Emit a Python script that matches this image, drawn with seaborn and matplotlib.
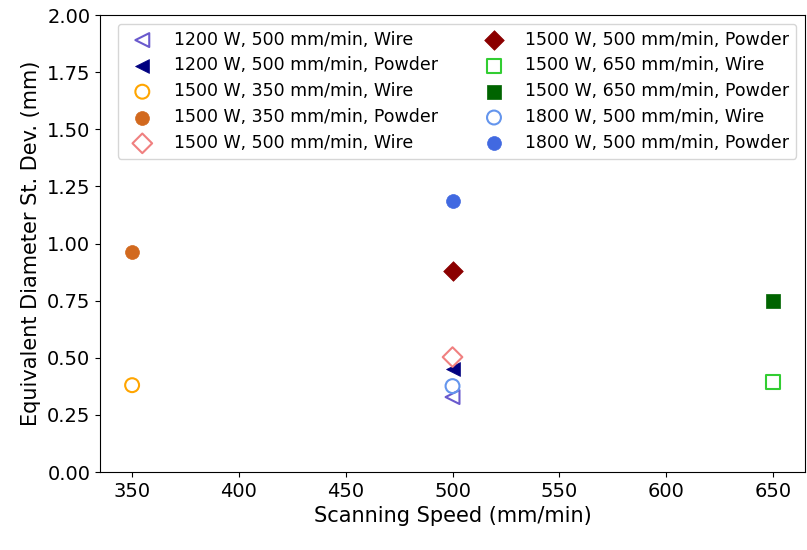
import matplotlib
matplotlib.use("Agg")
import matplotlib.pyplot as plt
import seaborn as sns
import pandas as pd

labels = [
    "1200 W, 500 mm/min, Wire",
    "1200 W, 500 mm/min, Powder",
    "1500 W, 350 mm/min, Wire",
    "1500 W, 350 mm/min, Powder",
    "1500 W, 500 mm/min, Wire",
    "1500 W, 500 mm/min, Powder",
    "1500 W, 650 mm/min, Wire",
    "1500 W, 650 mm/min, Powder",
    "1800 W, 500 mm/min, Wire",
    "1800 W, 500 mm/min, Powder",
]
speeds = [500, 500, 350, 350, 500, 500, 650, 650, 500, 500]
std_dev = [0.328, 0.45, 0.38, 0.963, 0.503, 0.88, 0.394, 0.748, 0.376, 1.186]
colors = ["slateblue", "navy", "orange", "chocolate", "lightcoral", "darkred",
          "limegreen", "darkgreen", "cornflowerblue", "royalblue"]
markers = ["<", "<", "o", "o", "D", "D", "s", "s", "o", "o"]
filled = [False, True, False, True, False, True, False, True, False, True]

fig, ax = plt.subplots(figsize=(8.07, 5.5), dpi=100)
fig.subplots_adjust(left=0.124, right=0.9975, top=0.9727, bottom=0.1418)

for lab, x, y, c, m, f in zip(labels, speeds, std_dev, colors, markers, filled):
    df = pd.DataFrame({"x": [x], "y": [y]})
    if f:
        sns.scatterplot(data=df, x="x", y="y", ax=ax, marker=m, s=100,
                        color=c, edgecolor=c, linewidth=0.5, label=lab)
    else:
        sns.scatterplot(data=df, x="x", y="y", ax=ax, marker=m, s=100,
                        color=c, facecolor="none", edgecolor=c, linewidth=1.5, label=lab)

ax.set_ylim(0, 2.0)
ax.set_xticks([350, 400, 450, 500, 550, 600, 650])
ax.set_yticks([0, 0.25, 0.5, 0.75, 1.0, 1.25, 1.5, 1.75, 2.0])
ax.set_xlabel("Scanning Speed (mm/min)", fontsize=15)
ax.set_ylabel("Equivalent Diameter St. Dev. (mm)", fontsize=15)
ax.tick_params(labelsize=14)
ax.legend(loc="upper right", ncol=2, fontsize=12.5, columnspacing=2.25,
          labelspacing=0.45)

fig.savefig("out.png", dpi=100)
